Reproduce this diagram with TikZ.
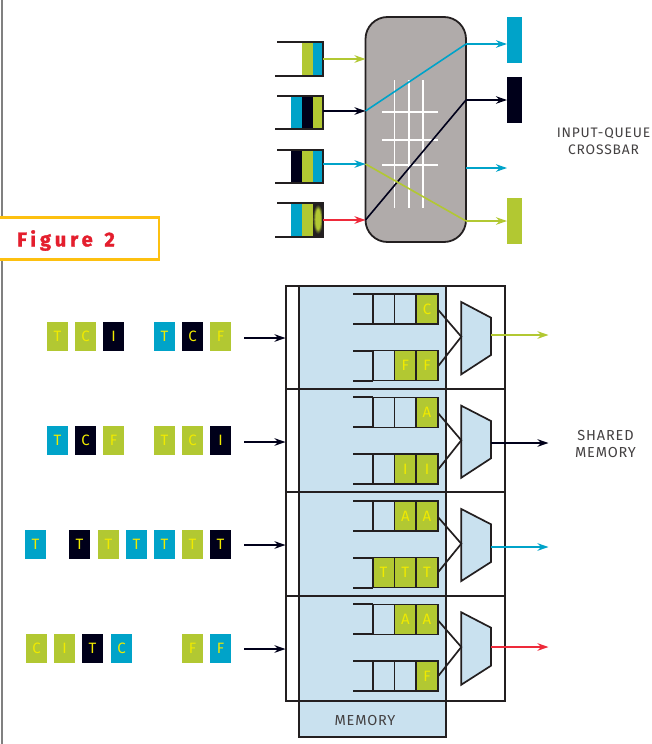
\documentclass[tikz,border=0pt]{standalone}
\usepackage{fontspec}
\setmainfont{Fira Sans}
\newfontfamily\labelfont[LetterSpace=6]{Fira Sans}
\newfontfamily\cellfont{Fira Sans}
\newfontfamily\figfont[LetterSpace=20,FakeBold=1.5]{Fira Sans}
\usetikzlibrary{arrows.meta}
\definecolor{cgreen}{HTML}{B2C832}
\definecolor{cblue}{HTML}{00A3C9}
\definecolor{cblack}{HTML}{00001A}
\definecolor{cred}{HTML}{EE2A3A}
\definecolor{cfig}{HTML}{E41E2D}
\definecolor{cgrey}{HTML}{B0ABAA}
\definecolor{cmem}{HTML}{C9E1EF}
\definecolor{cyell}{HTML}{F0EA00}
\definecolor{cbox}{HTML}{FDC010}
\definecolor{cink}{HTML}{231F20}
\tikzset{
  x=1pt,y=-1pt,
  ln/.style={draw=cink,line width=1.7pt},
  heavy/.style={draw=cink,line width=2pt},
  arr/.style={line width=1.8pt,-{Stealth[length=11pt,width=7.5pt]}},
  wire/.style={line width=1.6pt},
  gridline/.style={draw=white,line width=1.6pt},
  token/.style={minimum width=21pt,minimum height=29pt,inner sep=0pt,outer sep=0pt,text=cyell,font=\cellfont\fontsize{15}{15}\selectfont},
  slot/.style={minimum width=21.5pt,minimum height=30pt,inner sep=0pt,outer sep=0pt,draw=cink,line width=1.5pt,text=cyell,font=\cellfont\fontsize{15}{15}\selectfont},
  tag/.style={align=center,text=cink!85,font=\labelfont\fontsize{14.5}{17}\selectfont,inner sep=0pt,outer sep=0pt},
}
\begin{document}
\begin{tikzpicture}
\useasboundingbox (0,0) rectangle (651,744);
\path[clip] (0,0) rectangle (651,744);
\fill[white] (0,0) rectangle (651,744);
% margin rule and title
\coordinate (ruleT) at (2,0); \coordinate (ruleB) at (2,744);
\draw[draw=gray,line width=1.6pt] (ruleT) -- (ruleB);
\node[draw=cbox,fill=white,line width=2.2pt,outer sep=0pt,minimum width=160pt,minimum height=42pt,inner sep=0pt] (figbox) at (79,238.5) {};
\node[anchor=west,text=cfig,inner sep=0pt,font=\figfont\bfseries\fontsize{20}{20}\selectfont] (figtxt) at (17,240.5) {Figure\hspace{3pt} 2};

% ---- crossbar ----
\node[draw=cink,line width=1.8pt,fill=cgrey,rounded corners=22pt,outer sep=0pt,minimum width=100.5pt,minimum height=225pt,inner sep=0pt] (xbar) at (415.75,129.5) {};
\foreach \g/\x in {a/394.3,b/408.7,c/423}{
  \coordinate (v\g1) at (\x,80); \coordinate (v\g2) at (\x,207.7);
  \draw[gridline] (v\g1) -- (v\g2);}
\foreach \g/\y in {a/112,b/140,c/165}{
  \coordinate (h\g1) at (382,\y); \coordinate (h\g2) at (437.7,\y);
  \draw[gridline] (h\g1) -- (h\g2);}
% ports
\foreach \n/\y in {1/59,2/111,3/164,4/220}{\coordinate (in\n) at (365.5,\y);}
\foreach \n/\y in {1/44,2/100,3/168,4/221}{\coordinate (out\n) at (466,\y);}
\foreach \n/\y in {1/44,2/100,3/168,4/221}{\coordinate (end\n) at (507,\y);}
\draw[wire,cblue] (in2) -- (out1);
\draw[wire,cblack] (in4) -- (out2);
\draw[wire,cgreen] (in3) -- (out4);
% output columns
\node[fill=cblue,outer sep=0pt,minimum width=15pt,minimum height=46pt,inner sep=0pt,anchor=north west] (o1) at (507,17) {};
\node[fill=cblack,outer sep=0pt,minimum width=15pt,minimum height=46pt,inner sep=0pt,anchor=north west] (o2) at (507,77) {};
\node[fill=cgreen,outer sep=0pt,minimum width=15pt,minimum height=46pt,inner sep=0pt,anchor=north west] (o4) at (507,198) {};
\draw[arr,cblue] (out1) -- (end1);
\draw[arr,cblack] (out2) -- (end2);
\draw[arr,cblue] (out3) -- (end3);
\draw[arr,cgreen] (out4) -- (end4);
% input queues
\fill[cgreen] (302,42) rectangle (313,76); \fill[cblue] (313,42) rectangle (323,76);
\fill[cblue] (291,96) rectangle (302,129); \fill[cblack] (302,96) rectangle (313,129); \fill[cgreen] (313,96) rectangle (323,129);
\fill[cblack] (291,150) rectangle (302,183); \fill[cgreen] (302,150) rectangle (313,183); \fill[cblue] (313,150) rectangle (323,183);
\fill[cblue] (291,203) rectangle (302,237); \fill[cgreen] (302,203) rectangle (313,237);
\begin{scope}
  \clip (313,203) rectangle (323.5,237);
  \fill[cink] (313,203) rectangle (323.5,237);
  \foreach \pc/\rx/\ry in {15/5/14.5,30/4.5/13.5,50/4/12.5,70/3.5/11.5,85/3/11,100/2.5/10}{
    \fill[cgreen!\pc!cink] (318.2,219.5) ellipse ({\rx} and {\ry});}
\end{scope}
\foreach \n/\tp/\bt/\y/\cc in {1/42/76/59/cgreen,2/96/129/111/cblack,3/150/183/164/cblue,4/203/237/220/cred}{
  \coordinate (qt\n) at (277,\tp); \coordinate (qb\n) at (275,\bt);
  \coordinate (qe\n) at (323,\y);
  \draw[ln] (qt\n) -| (323,\bt) -- (qb\n);
  \draw[arr,\cc] (qe\n) -- (in\n);
}
\node[tag,anchor=north,font=\labelfont\fontsize{13.8}{17}\selectfont] (lab1) at (603.5,128) {INPUT-QUEUE\\CROSSBAR};

% ---- shared memory switch ----
\fill[white] (286,286) rectangle (504.7,701);
\node[fill=cmem,outer sep=0pt,minimum width=146.7pt,minimum height=451pt,inner sep=0pt,anchor=north west] (mem) at (299.3,286) {};
\node[draw=cink,line width=2pt,outer sep=0pt,minimum width=218.7pt,minimum height=415pt,inner sep=0pt,anchor=north west] (frame) at (286,286) {};
\draw[heavy] (mem.north west) rectangle (mem.south east);
\foreach \n/\y in {1/389.3,2/491.7,3/596.3}{
  \coordinate (dl\n) at (286,\y); \coordinate (dr\n) at (504.7,\y);
  \draw[heavy] (dl\n) -- (dr\n);}
\node[text=cink!85,inner sep=0pt,font=\labelfont\fontsize{14.5}{14.5}\selectfont] (memlab) at (365,720.7) {MEMORY};

% queues: name / top y / fills and letters of the three right cells
\foreach \q/\tp/\fa/\fb/\la/\lb/\lc in {
 a/294/cmem/cmem/{}/{}/C, b/350.7/cmem/cgreen/{}/F/F,
 c/397.3/cmem/cmem/{}/{}/A, d/454/cmem/cgreen/{}/I/I,
 e/501/cmem/cgreen/{}/A/A, f/557.7/cgreen/cgreen/T/T/T,
 g/604.3/cmem/cgreen/{}/A/A, h/661/cmem/cmem/{}/{}/F}{
  \coordinate (\q L1) at (353.3,\tp); \coordinate (\q L2) at (353.3,\tp+30);
  \draw[ln] (\q L1) -- (372.7,\tp) (\q L2) -- (372.7,\tp+30);
  \node[slot,fill=\fa] (\q1) at (383.5,\tp+15) {\la};
  \node[slot,fill=\fb] (\q2) at (405.3,\tp+15) {\lb};
  \node[slot,fill=cgreen] (\q3) at (427,\tp+15) {\lc};
}

% muxes
\foreach \m/\yo/\ya/\yb/\yc/\yd/\ax/\py/\pz/\cc in {
 1/335/302/374.3/317.7/355/336.7/309.3/366.7/cgreen,
 2/443/405.7/477.7/421/458.3/440.3/412.7/470/cblack,
 3/547/509/581/524.3/562/543.7/516.7/572.7/cblue,
 4/647/612.3/684.7/627.7/665.7/647/620/676.7/cred}{
  \coordinate (mA\m) at (461.3,\ya); \coordinate (mB\m) at (491,\yc);
  \coordinate (mC\m) at (491,\yd); \coordinate (mD\m) at (461.3,\yb);
  \coordinate (mP\m) at (461.3,\ax);
  \coordinate (mO\m) at (491,\yo); \coordinate (mE\m) at (548.5,\yo);
  \coordinate (s\m) at (437.7,\py); \coordinate (t\m) at (437.7,\pz);
  \draw[ln,fill=cmem] (mA\m) -- (mB\m) -- (mC\m) -- (mD\m) -- cycle;
  \draw[ln] (s\m) -- (mP\m) -- (t\m);
  \draw[arr,\cc] (mO\m) -- (mE\m);
}

% incoming arrows
\foreach \n/\y in {1/338,2/442,3/545,4/649}{
  \coordinate (ia\n) at (244,\y); \coordinate (ib\n) at (285.5,\y);
  \draw[arr,cblack] (ia\n) -- (ib\n);}

% packet tokens
\foreach \i/\x/\y/\cc/\tx in {
 r1a/57.5/336.5/cgreen/T, r1b/85.5/336.5/cgreen/C, r1c/113.5/336.5/cblack/I,
 r1d/164.5/336.5/cblue/T, r1e/192.5/336.5/cblack/C, r1f/220.5/336.5/cgreen/F,
 r2a/57.5/440.5/cblue/T, r2b/85.5/440.5/cblack/C, r2c/113.5/440.5/cgreen/F,
 r2d/164.5/440.5/cgreen/T, r2e/192.5/440.5/cgreen/C, r2f/220.5/440.5/cblack/I,
 r3a/35.5/544.5/cblue/T, r3b/79.5/544.5/cblack/T, r3c/108.5/544.5/cgreen/T,
 r3d/136.5/544.5/cblue/T, r3e/164.5/544.5/cblue/T, r3f/192.5/544.5/cgreen/T, r3g/220.5/544.5/cblack/T,
 r4a/36.5/648.5/cgreen/C, r4b/64.5/648.5/cgreen/I, r4c/92.5/648.5/cblack/T, r4d/121.5/648.5/cblue/C,
 r4e/192.5/648.5/cgreen/F, r4f/220.5/648.5/cblue/F}{
  \node[token,fill=\cc] (\i) at (\x,\y) {\tx};
}
\node[tag,anchor=north] (lab2) at (605.5,430) {SHARED\\MEMORY};
\end{tikzpicture}
\end{document}
